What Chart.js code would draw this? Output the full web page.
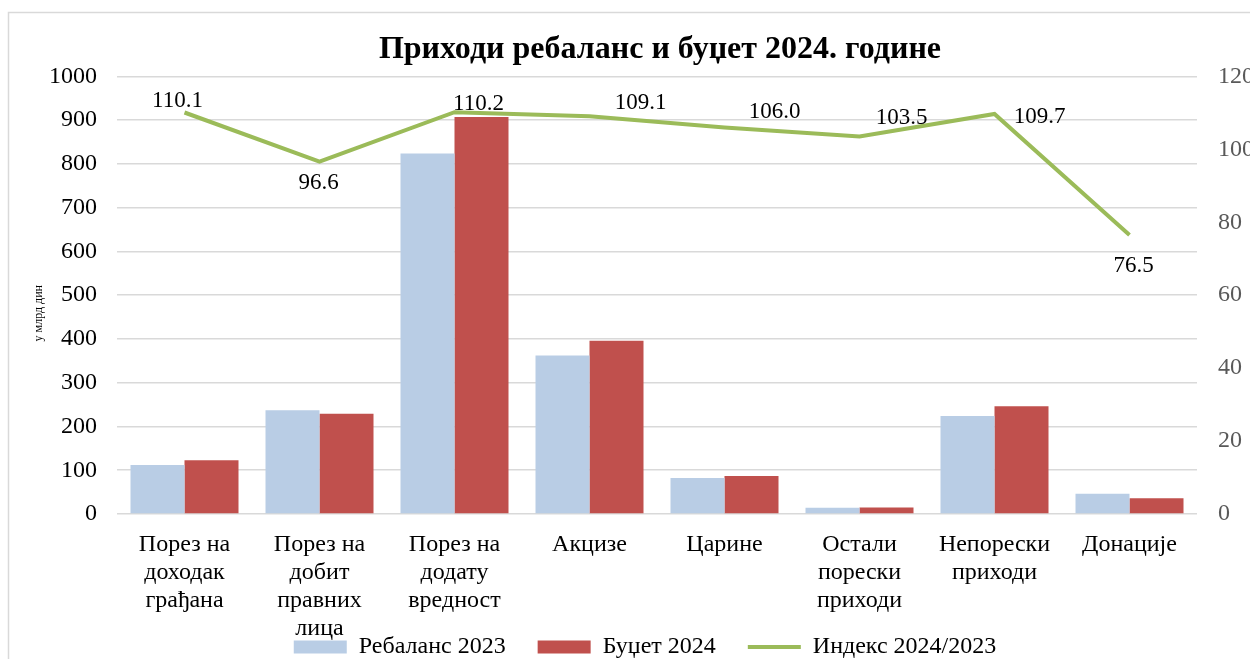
<!DOCTYPE html>
<html>
<head>
<meta charset="utf-8">
<script src="https://cdn.jsdelivr.net/npm/chart.js@4"></script>
<style>
  html, body { margin: 0; padding: 0; background: #fff; overflow: hidden; }
  #wrap { position: absolute; left: 0; top: 0; width: 1300px; height: 659px; }
</style>
</head>
<body>
<div id="wrap"><canvas id="chart" width="1300" height="659"></canvas></div>
<script>
const categories = [
  ["Порез на", "доходак", "грађана"],
  ["Порез на", "добит", "правних", "лица"],
  ["Порез на", "додату", "вредност"],
  "Акцизе",
  "Царине",
  ["Остали", "порески", "приходи"],
  ["Непорески", "приходи"],
  "Донације",
];
const rebalans2023 = [112, 237, 824, 362, 82, 14, 224, 46];
const budzet2024 = [123, 229, 907, 396, 87, 15, 246, 36];
const indeks = [110.1, 96.6, 110.2, 109.1, 106.0, 103.5, 109.7, 76.5];

const FONT = "'Liberation Serif', 'Times New Roman', serif";

// where each index label sits relative to its point
const labelOffsets = [[-7, -12], [-1, 21], [24, -8], [51, -13], [50, -16], [42, -19], [45, 3], [4, 31]];

const frame = {
  id: "frame",
  beforeDraw(chart) {
    const ctx = chart.ctx;
    ctx.save();
    ctx.fillStyle = "#fff";
    ctx.fillRect(0, 0, chart.width, chart.height);
    ctx.strokeStyle = "#D9D9D9";
    ctx.lineWidth = 1.5;
    ctx.strokeRect(8.5, 12.5, 2000, 2000);
    ctx.restore();
  },
};

// let the long category label run down over the legend, and place the legend like the original
const layoutTweaks = {
  id: "layoutTweaks",
  afterLayout(chart) {
    chart.scales.x.bottom = chart.height;
    const lg = chart.legend;
    const pad = lg.options.labels.padding;
    const dy = 647 - (lg.top + pad + 12);
    lg.top += dy;
    lg.bottom += dy;
    lg.left -= 15;
    lg.right -= 15;
  },
};

const indexLabels = {
  id: "indexLabels",
  afterDatasetsDraw(chart) {
    const ctx = chart.ctx;
    const meta = chart.getDatasetMeta(2);
    ctx.save();
    ctx.font = "23px " + FONT;
    ctx.fillStyle = "#000";
    ctx.textAlign = "center";
    ctx.textBaseline = "middle";
    meta.data.forEach((pt, i) => {
      const off = labelOffsets[i];
      ctx.fillText(indeks[i].toFixed(1), pt.x + off[0], pt.y + off[1]);
    });
    ctx.restore();
  },
};

new Chart(document.getElementById("chart"), {
  data: {
    labels: categories,
    datasets: [
      {
        type: "bar",
        label: "Ребаланс 2023",
        data: rebalans2023,
        backgroundColor: "#B9CDE5",
        yAxisID: "y",
        order: 1,
      },
      {
        type: "bar",
        label: "Буџет 2024",
        data: budzet2024,
        backgroundColor: "#C0504D",
        yAxisID: "y",
        order: 1,
      },
      {
        type: "line",
        label: "Индекс 2024/2023",
        data: indeks,
        borderColor: "#9BBB59",
        backgroundColor: "#9BBB59",
        borderWidth: 4,
        pointRadius: 0,
        tension: 0,
        yAxisID: "y1",
        order: 0,
      },
    ],
  },
  options: {
    responsive: false,
    animation: false,
    layout: { padding: { left: 20, right: 0, top: 12, bottom: 4 } },
    datasets: {
      bar: { categoryPercentage: 0.8, barPercentage: 1.0 },
    },
    scales: {
      x: {
        grid: { display: false },
        border: { display: false },
        ticks: {
          font: { family: FONT, size: 24, lineHeight: 1.16 },
          color: "#000",
          maxRotation: 0,
          autoSkip: false,
          padding: 9,
        },
        afterFit(scale) { scale.height = 75; },
      },
      y: {
        position: "left",
        min: 0,
        max: 1000,
        ticks: {
          stepSize: 100,
          font: { family: FONT, size: 24 },
          color: "#000",
          padding: 20,
          callback: (v) => String(v),
        },
        grid: { color: "#D9D9D9", lineWidth: 1.5, drawTicks: false },
        border: { display: false },
        title: {
          display: true,
          text: "у млрд дин" + "\u00a0".repeat(12),
          font: { family: FONT, size: 12 },
          color: "#000",
          padding: { top: 12, bottom: 0 },
        },
        afterFit(scale) { scale.width = 97; },
      },
      y1: {
        position: "right",
        min: 0,
        max: 120,
        ticks: {
          stepSize: 20,
          font: { family: FONT, size: 24 },
          color: "#595959",
          padding: 21,
        },
        grid: { display: false, drawTicks: false },
        border: { display: false },
        afterFit(scale) { scale.width = 103; },
      },
    },
    plugins: {
      title: {
        display: true,
        text: "Приходи ребаланс и буџет 2024. године",
        font: { family: FONT, size: 32, weight: "bold" },
        color: "#000",
        padding: { top: 19, bottom: 7 },
      },
      legend: {
        position: "bottom",
        labels: {
          font: { family: FONT, size: 24 },
          color: "#000",
          usePointStyle: true,
          pointStyleWidth: 53,
          boxHeight: 13,
          padding: 32,
          sort: (a, b) => a.datasetIndex - b.datasetIndex,
          generateLabels(chart) {
            const items = Chart.defaults.plugins.legend.labels.generateLabels(chart);
            items.forEach((it) => {
              it.pointStyle = it.datasetIndex === 2 ? "line" : "rect";
              if (it.datasetIndex !== 2) it.lineWidth = 0;
            });
            return items;
          },
        },
      },
      tooltip: { enabled: false },
    },
  },
  plugins: [frame, layoutTweaks, indexLabels],
});
</script>
</body>
</html>
